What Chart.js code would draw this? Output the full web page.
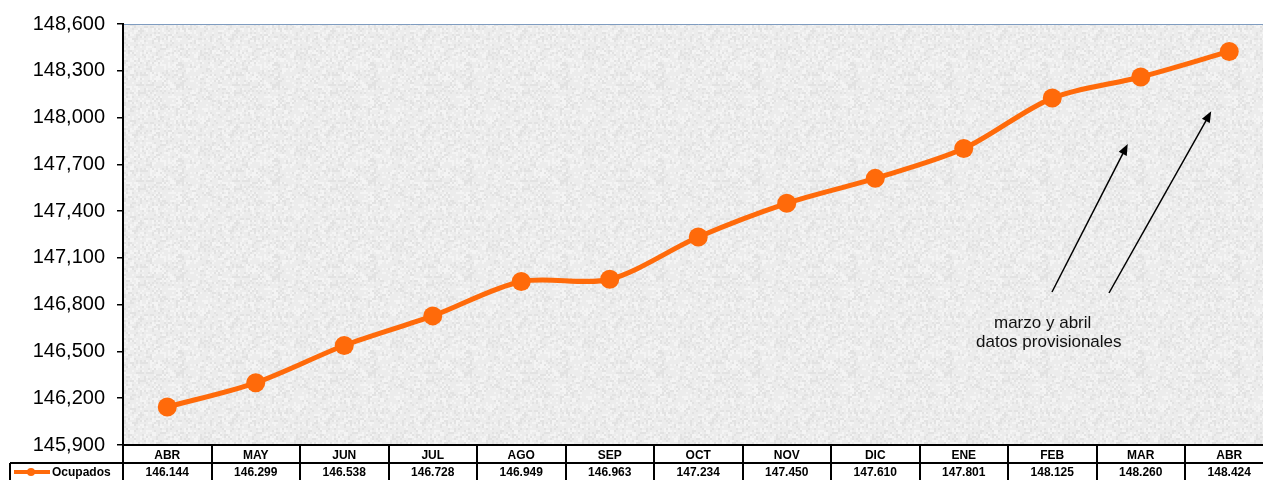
<!DOCTYPE html>
<html>
<head>
<meta charset="utf-8">
<script src="https://cdn.jsdelivr.net/npm/chart.js@4.4.1/dist/chart.umd.min.js"></script>
<style>
  html, body { margin: 0; padding: 0; background: #fff; overflow: hidden; }
</style>
</head>
<body>
<canvas id="chart" width="1283" height="480"></canvas>
<script>
// Ocupados (miles) - abril a abril
const months = ['ABR', 'MAY', 'JUN', 'JUL', 'AGO', 'SEP', 'OCT', 'NOV', 'DIC', 'ENE', 'FEB', 'MAR', 'ABR']
const ocupados = [146144, 146299, 146538, 146728, 146949, 146963, 147234, 147450, 147610, 147801, 148125, 148260, 148424]
const yTicks = [145900, 146200, 146500, 146800, 147100, 147400, 147700, 148000, 148300, 148600]
const seriesName = 'Ocupados'
const noteLines = ['marzo y abril', 'datos provisionales']

const orange = '#ff6a0a'
const tableFont = 'bold 12px "Liberation Sans Narrow", "Liberation Sans", Arial, sans-serif'
const fmtAxis = v => v.toLocaleString('en-US')
const fmtTable = v => (v / 1000).toFixed(3)

// soft grey speckle for the plot background (deterministic)
function makeTexture() {
  const c = document.createElement('canvas')
  c.width = 96; c.height = 96
  const g = c.getContext('2d')
  g.fillStyle = '#ececec'
  g.fillRect(0, 0, 96, 96)
  for (let y = 0; y < 96; y += 2) {
    for (let x = 0; x < 96; x += 2) {
      const h = Math.sin(x * 12.9898 + y * 78.233) * 43758.5453
      const f = h - Math.floor(h)
      if (f > 0.8) { g.fillStyle = 'rgba(160,160,160,0.12)'; g.fillRect(x, y, 2, 2) }
      else if (f < 0.25) { g.fillStyle = 'rgba(255,255,255,0.45)'; g.fillRect(x, y, 2, 2) }
    }
  }
  return c
}
const texture = makeTexture()

const backdrop = {
  id: 'backdrop',
  beforeDraw(chart) {
    const { ctx, chartArea: a } = chart
    ctx.save()
    ctx.fillStyle = ctx.createPattern(texture, 'repeat')
    ctx.fillRect(a.left, a.top, a.right - a.left, a.bottom - a.top)
    ctx.strokeStyle = '#7f9cc0'
    ctx.lineWidth = 1
    ctx.beginPath()
    ctx.moveTo(a.left, a.top + 0.5)
    ctx.lineTo(a.right, a.top + 0.5)
    ctx.stroke()
    ctx.restore()
  }
}

const dataTable = {
  id: 'dataTable',
  afterDraw(chart) {
    const { ctx, chartArea: a, scales: { x } } = chart
    const step = x.getPixelForValue(1) - x.getPixelForValue(0)
    const row1 = a.bottom, row2 = a.bottom + 18, row3 = 482
    ctx.save()
    ctx.strokeStyle = '#000'
    ctx.lineWidth = 2
    ctx.beginPath()
    ctx.moveTo(a.left, row1); ctx.lineTo(a.right, row1)
    ctx.moveTo(10, row2); ctx.lineTo(a.right, row2)
    ctx.moveTo(10, row2); ctx.lineTo(10, row3)
    for (let i = 0; i <= months.length; i++) {
      const px = Math.round(x.getPixelForValue(0) - step / 2 + i * step)
      ctx.moveTo(px, row1); ctx.lineTo(px, row3)
    }
    ctx.stroke()

    // legend key
    ctx.strokeStyle = orange
    ctx.lineWidth = 4
    ctx.beginPath()
    ctx.moveTo(14, row2 + 9); ctx.lineTo(50, row2 + 9)
    ctx.stroke()
    ctx.fillStyle = orange
    ctx.beginPath(); ctx.arc(31, row2 + 9, 4, 0, Math.PI * 2); ctx.fill()
    ctx.fillStyle = '#000'
    ctx.font = tableFont
    ctx.textBaseline = 'middle'
    ctx.textAlign = 'left'
    ctx.fillText(seriesName, 52, row2 + 10)

    ctx.textAlign = 'center'
    ocupados.forEach((v, i) => {
      ctx.fillText(fmtTable(v), x.getPixelForValue(i), row2 + 10)
    })
    ctx.restore()
  }
}

const note = {
  id: 'note',
  afterDraw(chart) {
    const { ctx, scales: { x, y } } = chart
    ctx.save()
    ctx.fillStyle = '#111'
    ctx.font = '17px "Liberation Sans", Arial, sans-serif'
    ctx.textBaseline = 'middle'
    ctx.textAlign = 'left'
    ctx.fillText(noteLines[0], 994, 323)
    ctx.fillText(noteLines[1], 976, 342)

    const arrows = [
      [1052, 292, x.getPixelForValue(11) - 13, y.getPixelForValue(147830)],
      [1109, 293, x.getPixelForValue(12) - 18, y.getPixelForValue(148040)]
    ]
    ctx.strokeStyle = '#000'
    ctx.fillStyle = '#000'
    ctx.lineWidth = 1.5
    arrows.forEach(([x0, y0, x1, y1]) => {
      const ang = Math.atan2(y1 - y0, x1 - x0)
      ctx.beginPath()
      ctx.moveTo(x0, y0); ctx.lineTo(x1 - 6 * Math.cos(ang), y1 - 6 * Math.sin(ang))
      ctx.stroke()
      ctx.beginPath()
      ctx.moveTo(x1, y1)
      ctx.lineTo(x1 - 11 * Math.cos(ang) + 4.5 * Math.sin(ang), y1 - 11 * Math.sin(ang) - 4.5 * Math.cos(ang))
      ctx.lineTo(x1 - 11 * Math.cos(ang) - 4.5 * Math.sin(ang), y1 - 11 * Math.sin(ang) + 4.5 * Math.cos(ang))
      ctx.closePath()
      ctx.fill()
    })
    ctx.restore()
  }
}

const ctx = document.getElementById('chart').getContext('2d')
new Chart(ctx, {
  type: 'line',
  data: {
    labels: months,
    datasets: [{
      label: seriesName,
      data: ocupados,
      borderColor: orange,
      backgroundColor: orange,
      borderWidth: 5,
      pointRadius: 9.5,
      pointBackgroundColor: orange,
      pointBorderWidth: 0,
      tension: 0.3,
      clip: false
    }]
  },
  options: {
    responsive: false,
    animation: false,
    layout: { padding: { top: 22, right: 2, left: 0, bottom: 0 } },
    plugins: { legend: { display: false }, tooltip: { enabled: false } },
    scales: {
      x: {
        offset: true,
        grid: { display: false, drawTicks: false },
        border: { display: false },
        afterFit: s => { s.height = 35 },
        ticks: {
          padding: 3,
          color: '#000',
          font: { family: '"Liberation Sans Narrow", "Liberation Sans", Arial, sans-serif', size: 12, weight: 'bold' },
          maxRotation: 0
        }
      },
      y: {
        min: 145900,
        max: 148600,
        afterFit: s => { s.width = 123 },
        afterBuildTicks: s => { s.ticks = yTicks.map(v => ({ value: v })) },
        border: { display: true, color: '#000', width: 2 },
        grid: { drawOnChartArea: false, drawTicks: true, tickLength: 6, color: '#000', lineWidth: 1.5 },
        ticks: {
          padding: 12,
          color: '#000',
          font: { family: '"Liberation Sans", Arial, sans-serif', size: 20 },
          callback: v => fmtAxis(v)
        }
      }
    }
  },
  plugins: [backdrop, dataTable, note]
})
</script>
</body>
</html>
